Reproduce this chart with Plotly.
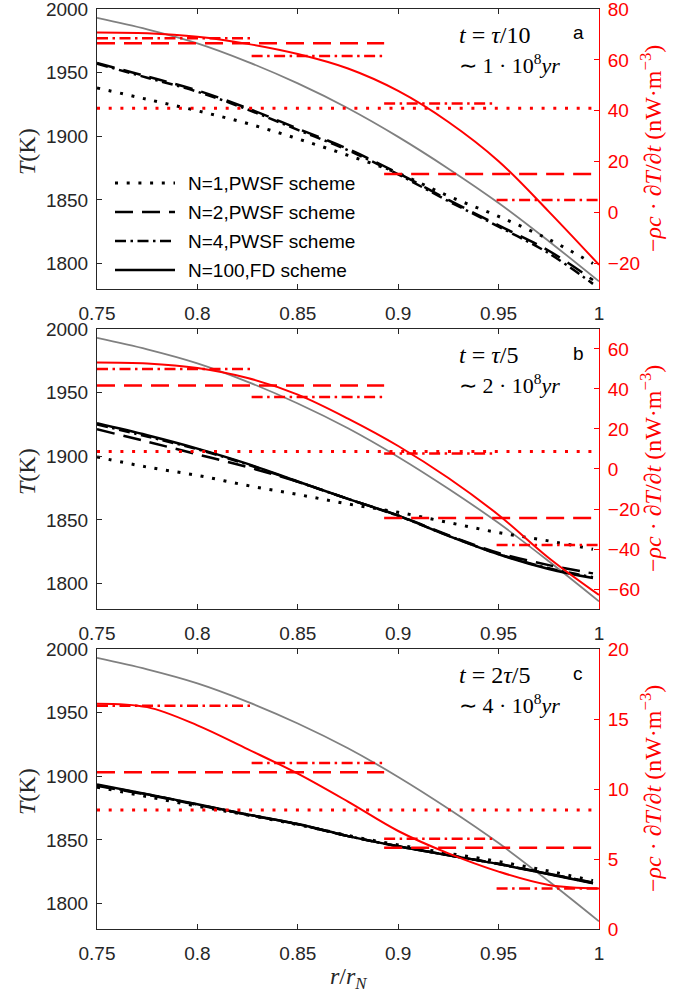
import plotly.graph_objects as go

# ---------------------------------------------------------------- data
# radial positions r / r_N
R = [0.75, 0.775, 0.8, 0.825, 0.85, 0.875, 0.9, 0.925, 0.95, 0.975, 1.0]
R_T = [0.75, 0.775, 0.8, 0.825, 0.85, 0.875, 0.9, 0.925, 0.95, 0.975, 0.997]

# shell edges of the piecewise (PWSF) schemes
EDGES_N1 = [0.75, 1.0]
EDGES_N2 = [0.75, 0.893, 1.0]
EDGES_N4 = [0.75, 0.827, 0.893, 0.949, 1.0]

# gray reference temperature profile (K)
T_REF = [1993, 1984, 1973, 1958.5, 1941.5, 1922, 1899.5, 1874.5, 1847.5, 1817.5, 1786]

# panel a : t = tau/10  (no FD temperature curve drawn here)
A_T_N1 = [1938, 1929, 1920, 1910, 1898, 1885, 1871, 1853, 1837, 1819, 1800]
A_T_N2 = [1957.5, 1947, 1936, 1922, 1906, 1890, 1871, 1850, 1830, 1810, 1787]
A_T_N4 = [1957, 1946, 1935, 1921, 1905, 1889, 1870, 1849, 1829, 1808, 1784]
A_T_FD = []
A_Q_FD = [70.8, 70.5, 69.1, 66.3, 62.3, 56.6, 47.8, 35.6, 20.2, 0.4, -20.5]
A_Q_N1 = [41.0]
A_Q_N2 = [66.5, 15.2]
A_Q_N4 = [68.5, 61.5, 42.9, 5.0]

# panel b : t = tau/5
B_T_N1 = [1899.5, 1891.5, 1885, 1877, 1870, 1862.5, 1856, 1848, 1840, 1833.5, 1827]
B_T_N2 = [1921.2, 1911.5, 1901.5, 1891.5, 1880, 1866.5, 1853.5, 1838, 1824, 1814.5, 1808]
B_T_N4 = [1925, 1915.5, 1905.5, 1893.5, 1880, 1866.5, 1853.2, 1837.6, 1823.2, 1812, 1805]
B_T_FD = [1925.9, 1916.5, 1906, 1894, 1880.2, 1866.5, 1853.4, 1837.5, 1823, 1811.5, 1804.3]
B_Q_FD = [53.3, 52.8, 50.5, 45.5, 37.2, 25.2, 11.5, -4.5, -23, -44.5, -63]
B_Q_N1 = [8.7]
B_Q_N2 = [41.7, -24.5]
B_Q_N4 = [50.0, 36.0, 7.8, -38.0]

# panel c : t = 2 tau/5
C_T_N1 = [1891.5, 1884, 1876.5, 1869.5, 1862, 1853.5, 1846, 1839.5, 1833, 1825.5, 1818]
C_T_N2 = [1892.5, 1885.5, 1877.5, 1869.8, 1862.3, 1853, 1845, 1838, 1831.2, 1823.4, 1816.5]
C_T_N4 = [1893, 1885.8, 1877.8, 1870, 1862.4, 1853, 1845, 1838, 1831.1, 1823.2, 1816.2]
C_T_FD = [1893.5, 1886, 1878, 1870, 1862.5, 1853, 1845, 1838, 1831, 1823, 1816]
C_Q_FD = [16.1, 15.85, 14.55, 12.85, 11.1, 9.1, 7.0, 5.4, 4.1, 3.15, 2.9]
C_Q_N1 = [8.5]
C_Q_N2 = [11.2, 5.8]
C_Q_N4 = [15.95, 11.85, 6.45, 2.9]

X_TICKS = [0.75, 0.8, 0.85, 0.9, 0.95, 1.0]
X_TICKTEXT = ["0.75", "0.8", "0.85", "0.9", "0.95", "1"]
T_TICKS = [1800, 1850, 1900, 1950, 2000]
Q_TICKS = [[-20, 0, 20, 40, 60, 80], [-60, -40, -20, 0, 20, 40, 60], [0, 5, 10, 15, 20]]
Q_RANGES = [[-30, 80], [-70, 70], [0, 20]]
T_RANGE = [1780, 2000]

TIME_LABELS = ["<i>t</i> = <i>τ</i>/10", "<i>t</i> = <i>τ</i>/5", "<i>t</i> = 2<i>τ</i>/5"]
AGE_LABELS = ["∼ 1 · 10<sup>8</sup><i>yr</i>", "∼ 2 · 10<sup>8</sup><i>yr</i>",
              "∼ 4 · 10<sup>8</sup><i>yr</i>"]
PANEL_TAGS = ["a", "b", "c"]
LEGEND_LABELS = ["N=1,PWSF scheme", "N=2,PWSF scheme", "N=4,PWSF scheme", "N=100,FD scheme"]

# ---------------------------------------------------------------- styles
INK = "#262626"
RED = "#ff0000"
GRAY = "#808080"
SANS = "Liberation Sans"
SERIF = "Liberation Serif"
DOT = "3px,8.7px"
DASH = "18px,9px"
DASHDOT = "11px,4.5px,2.5px,4.5px"

W, H = 690, 992
ML, MR, MT, MB = 97, 91, 9, 63
PW, PH = W - ML - MR, H - MT - MB
DOMAINS = [[0.6957, 1.0], [0.3478, 0.6522], [0.0, 0.3043]]


def px(xp):
    return (xp - ML) / PW


def py(yp):
    return 1 - (yp - MT) / PH


def steps(edges, vals):
    xs, ys = [], []
    for i, v in enumerate(vals):
        xs += [edges[i], edges[i + 1], None]
        ys += [v, v, None]
    return xs, ys


panels = [
    (A_T_N1, A_T_N2, A_T_N4, A_T_FD, A_Q_FD, A_Q_N1, A_Q_N2, A_Q_N4),
    (B_T_N1, B_T_N2, B_T_N4, B_T_FD, B_Q_FD, B_Q_N1, B_Q_N2, B_Q_N4),
    (C_T_N1, C_T_N2, C_T_N4, C_T_FD, C_Q_FD, C_Q_N1, C_Q_N2, C_Q_N4),
]

fig = go.Figure()
layout = {}

for k, (tn1, tn2, tn4, tfd, qfd, qn1, qn2, qn4) in enumerate(panels):
    xa = "x" if k == 0 else f"x{k + 1}"
    yl = "y" if k == 0 else f"y{2 * k + 1}"
    yr = f"y{2 * k + 2}"

    # temperatures (left axis)
    fig.add_trace(go.Scatter(x=R, y=T_REF, xaxis=xa, yaxis=yl, mode="lines",
                             line=dict(color=GRAY, width=1.8, shape="spline", smoothing=1.0)))
    for vals, dash in [(tn1, DOT), (tn2, DASH), (tn4, DASHDOT), (tfd, "solid")]:
        if not vals:
            continue
        fig.add_trace(go.Scatter(x=R_T[:len(vals)], y=vals, xaxis=xa, yaxis=yl, mode="lines",
                                 line=dict(color="black", width=3 if dash == DOT else 2.5,
                                           dash=dash, shape="spline", smoothing=1.0)))

    # heating rate (right axis)
    for edges, vals, dash in [(EDGES_N1, qn1, DOT), (EDGES_N2, qn2, DASH), (EDGES_N4, qn4, DASHDOT)]:
        xs, ys = steps(edges, vals)
        fig.add_trace(go.Scatter(x=xs, y=ys, xaxis=xa, yaxis=yr, mode="lines",
                                 line=dict(color=RED, width=3 if dash == DOT else 2.5, dash=dash)))
    fig.add_trace(go.Scatter(x=R, y=qfd, xaxis=xa, yaxis=yr, mode="lines",
                             line=dict(color=RED, width=2, shape="spline", smoothing=1.0)))

    xkey = "xaxis" if k == 0 else f"xaxis{k + 1}"
    ylkey = "yaxis" if k == 0 else f"yaxis{2 * k + 1}"
    yrkey = f"yaxis{2 * k + 2}"
    layout[xkey] = dict(domain=[0, 1], anchor=yl, range=[0.75, 1.0], tickvals=X_TICKS,
                        ticktext=X_TICKTEXT, ticks="inside", ticklen=5, tickcolor=INK,
                        showline=True, linecolor=INK, linewidth=1, mirror="ticks",
                        showgrid=False, zeroline=False, automargin=False,
                        ticklabeloverflow="allow", ticklabelstandoff=7,
                        tickfont=dict(family=SANS, size=19, color=INK))
    layout[ylkey] = dict(domain=DOMAINS[k], anchor=xa, range=T_RANGE, tickvals=T_TICKS,
                         ticks="inside", ticklen=5, tickcolor=INK, showline=True,
                         linecolor=INK, linewidth=1, showgrid=False, zeroline=False,
                         automargin=False, ticklabeloverflow="allow",
                         tickfont=dict(family=SANS, size=19, color=INK), ticklabelstandoff=4)
    layout[yrkey] = dict(overlaying=yl, side="right", anchor=xa, range=Q_RANGES[k],
                         tickvals=Q_TICKS[k], ticks="inside", ticklen=5, tickcolor=RED,
                         showline=True, linecolor=RED, linewidth=1, showgrid=False,
                         zeroline=False, automargin=False, ticklabeloverflow="allow",
                         tickfont=dict(family=SANS, size=19, color=RED),
                         ticklabelstandoff=4)

annotations = []
shapes = []
offsets = [0, 320, 640]
for k in range(3):
    o = offsets[k]
    annotations.append(dict(xref="paper", yref="paper", x=px(457), y=py(35 + o),
                            xanchor="left", yanchor="middle", showarrow=False,
                            text=TIME_LABELS[k], font=dict(family=SERIF, size=24, color="black")))
    annotations.append(dict(xref="paper", yref="paper", x=px(457), y=py(64 + o),
                            xanchor="left", yanchor="middle", showarrow=False,
                            text=AGE_LABELS[k], font=dict(family=SERIF, size=22, color="black")))
    annotations.append(dict(xref="paper", yref="paper", x=px(578), y=py(33 + o),
                            xanchor="center", yanchor="middle", showarrow=False,
                            text=PANEL_TAGS[k], font=dict(family=SANS, size=19, color="black")))
    annotations.append(dict(xref="paper", yref="paper", x=px(27), y=py(152 + o),
                            xanchor="center", yanchor="middle", showarrow=False, textangle=-90,
                            text="<i>T</i>(K)", font=dict(family=SERIF, size=24, color=INK)))
    annotations.append(dict(xref="paper", yref="paper", x=px(651), y=py(149 + o),
                            xanchor="center", yanchor="middle", showarrow=False, textangle=-90,
                            text="−<i>ρc</i> · <i>∂T</i>/<i>∂t</i> (nW·m<sup>−3</sup>)",
                            font=dict(family=SERIF, size=24, color=RED)))

annotations.append(dict(xref="paper", yref="paper", x=px(348), y=py(978),
                        xanchor="center", yanchor="middle", showarrow=False,
                        text="<i>r</i>/<i>r</i><sub><i>N</i></sub>",
                        font=dict(family=SERIF, size=24, color=INK)))

# legend of the first panel
legend_y = [183, 212, 241, 270]
for lab, yy, dash in zip(LEGEND_LABELS, legend_y, [DOT, DASH, DASHDOT, "solid"]):
    shapes.append(dict(type="line", xref="paper", yref="paper", x0=px(115), x1=px(175),
                       y0=py(yy), y1=py(yy),
                       line=dict(color="black", width=3 if dash == DOT else 2.5, dash=dash)))
    annotations.append(dict(xref="paper", yref="paper", x=px(186), y=py(yy),
                            xanchor="left", yanchor="middle", showarrow=False, text=lab,
                            font=dict(family=SANS, size=19, color="black")))

fig.update_layout(template="none", width=W, height=H,
                  margin=dict(l=ML, r=MR, t=MT, b=MB, autoexpand=False),
                  plot_bgcolor="white", paper_bgcolor="white", showlegend=False,
                  font=dict(family=SANS, color=INK),
                  annotations=annotations, shapes=shapes, **layout)

fig.write_html("out.html")
